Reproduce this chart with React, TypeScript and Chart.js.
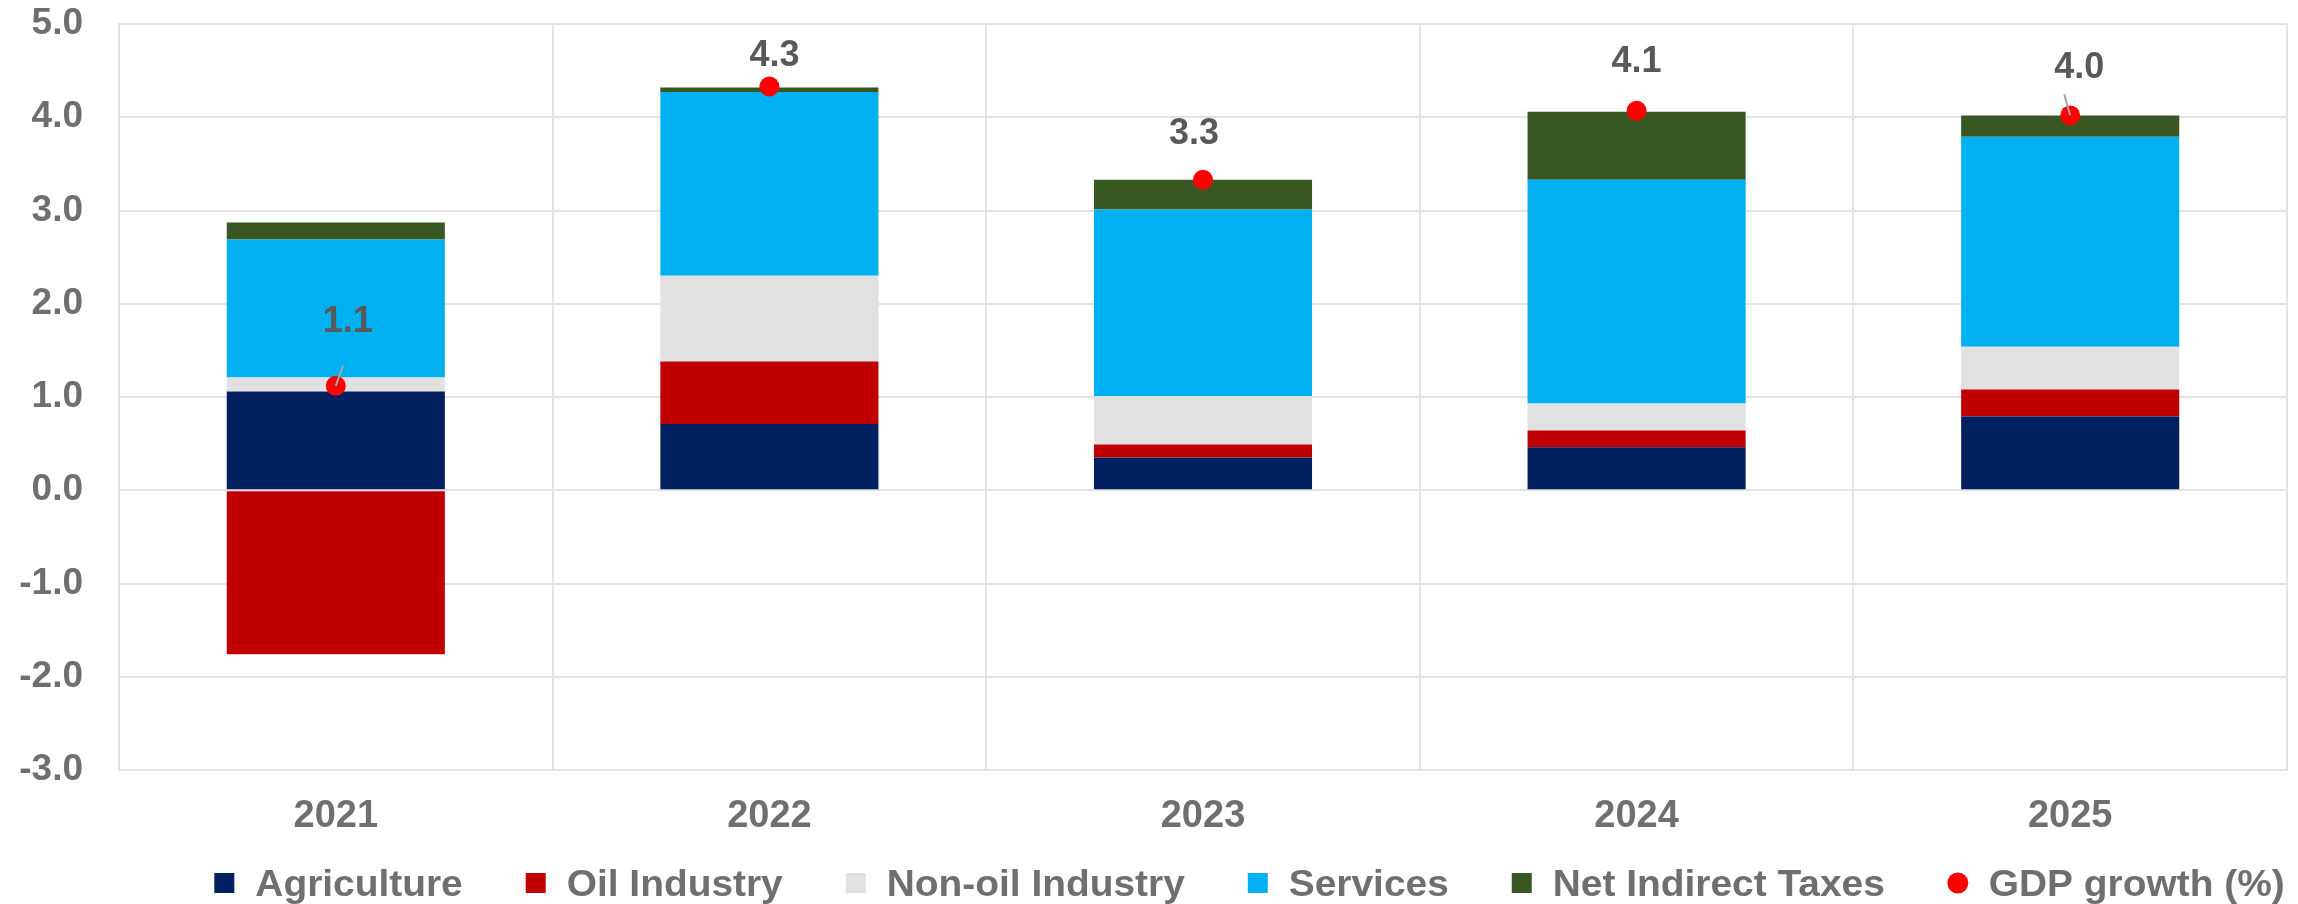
import { useEffect, useRef } from "react";
import { Chart, registerables } from "chart.js";

Chart.register(...registerables);

// ---- data ----
const years = ["2021", "2022", "2023", "2024", "2025"];
const agriculture = [1.06, 0.71, 0.35, 0.46, 0.79];
const oilIndustry = [-1.76, 0.67, 0.14, 0.18, 0.29];
const nonOilIndustry = [0.15, 0.92, 0.52, 0.29, 0.46];
const services = [1.48, 1.97, 2.0, 2.4, 2.25];
const netIndirectTaxes = [0.18, 0.05, 0.32, 0.73, 0.23];
const gdpGrowth = [1.12, 4.33, 3.33, 4.07, 4.02];
const yTicks = [-3, -2, -1, 0, 1, 2, 3, 4, 5];

const seriesNames = [
  "Agriculture",
  "Oil Industry",
  "Non-oil Industry",
  "Services",
  "Net Indirect Taxes",
  "GDP growth (%)",
];

// ---- styles ----
const W = 2298;
const H = 904;
const FAMILY = "'Liberation Sans', Arial, sans-serif";
const GRID = "#e3e3e3";
const TEXT = "#6f6f6f";
const LABEL_TEXT = "#595959";
const colors = ["#002060", "#C00000", "#E1E1E1", "#00B0F0", "#385723", "#FF0000"];

// label placement relative to each point (pixels)
const labelPlacement = [
  { dx: 12, dy: -67, leader: [7, -20] },
  { dx: 5, dy: -33 },
  { dx: -9, dy: -49 },
  { dx: 0, dy: -52 },
  { dx: 9, dy: -50, leader: [-6, -21] },
];

const gdpLabelPlugin = {
  id: "gdpLabels",
  afterDatasetsDraw(chart: any) {
    const ctx = chart.ctx;
    const idx = chart.data.datasets.findIndex((d: any) => d.type === "line");
    if (idx < 0) return;
    const meta = chart.getDatasetMeta(idx);
    const data = chart.data.datasets[idx].data;
    ctx.save();
    const size = 36;
    ctx.font = `bold ${size}px ${FAMILY}`;
    ctx.textAlign = "center";
    ctx.textBaseline = "alphabetic";
    meta.data.forEach((pt: any, i: number) => {
      const p: any = labelPlacement[i] || { dx: 0, dy: -50 };
      if (p.leader) {
        ctx.strokeStyle = "#a6a6a6";
        ctx.lineWidth = 2;
        ctx.beginPath();
        ctx.moveTo(pt.x, pt.y);
        ctx.lineTo(pt.x + p.leader[0], pt.y + p.leader[1]);
        ctx.stroke();
      }
      ctx.fillStyle = LABEL_TEXT;
      ctx.fillText(Number(data[i]).toFixed(1), pt.x + p.dx, pt.y + p.dy + size * 0.358);
    });
    ctx.restore();
  },
};

const legendPlugin = {
  id: "customLegend",
  afterDraw(chart: any) {
    const ctx = chart.ctx;
    const size = 36;
    const stretch = 1.08;
    const marker = 20;
    const dot = 21;
    const gap = 21;
    const spacing = 63;
    const centerX = 1249.5;
    const cy = 883;
    ctx.save();
    ctx.font = `bold ${size}px ${FAMILY}`;
    const items = chart.data.datasets.map((d: any) => ({
      label: d.label,
      color: d.type === "line" ? d.pointBackgroundColor : d.backgroundColor,
      circle: d.type === "line",
    }));
    const widths = items.map(
      (it: any) => marker + gap + ctx.measureText(it.label).width * stretch
    );
    const total =
      widths.reduce((a: number, b: number) => a + b, 0) + spacing * (items.length - 1);
    let x = centerX - total / 2;
    ctx.textAlign = "left";
    ctx.textBaseline = "alphabetic";
    items.forEach((it: any, i: number) => {
      ctx.fillStyle = it.color;
      if (it.circle) {
        ctx.beginPath();
        ctx.arc(x + marker / 2, cy, dot / 2, 0, Math.PI * 2);
        ctx.fill();
      } else {
        ctx.fillRect(x, cy - marker / 2, marker, marker);
      }
      ctx.fillStyle = TEXT;
      ctx.save();
      ctx.translate(x + marker + gap, cy + size * 0.358);
      ctx.scale(stretch, 1);
      ctx.fillText(it.label, 0, 0);
      ctx.restore();
      x += widths[i] + spacing;
    });
    ctx.restore();
  },
};

export default function App() {
  const ref = useRef<HTMLCanvasElement | null>(null);

  useEffect(() => {
    if (!ref.current) return;
    const barSeries = [agriculture, oilIndustry, nonOilIndustry, services, netIndirectTaxes];
    const datasets: any[] = barSeries.map((vals, i) => ({
      type: "bar",
      label: seriesNames[i],
      data: vals,
      backgroundColor: colors[i],
      borderWidth: 0,
      categoryPercentage: 1,
      barPercentage: 0.503,
      order: 1,
      stack: "components",
    }));
    datasets.push({
      type: "line",
      label: seriesNames[5],
      data: gdpGrowth,
      showLine: false,
      pointRadius: 10,
      pointHoverRadius: 10,
      pointBackgroundColor: colors[5],
      pointBorderWidth: 0,
      backgroundColor: colors[5],
      borderColor: colors[5],
      order: 0,
      stack: "gdp",
    });

    const chart = new Chart(ref.current, {
      type: "bar",
      data: { labels: years, datasets },
      options: {
        responsive: false,
        animation: false,
        devicePixelRatio: 1,
        layout: { padding: { top: 24, right: 11, bottom: 68, left: 0 } },
        plugins: {
          legend: { display: false },
          tooltip: { enabled: false },
        },
        scales: {
          x: {
            stacked: true,
            offset: true,
            grid: { color: GRID, lineWidth: 2, drawTicks: false, offset: true },
            border: { color: GRID, width: 2 },
            ticks: {
              color: TEXT,
              padding: 24,
              font: { family: FAMILY, size: 38, weight: "bold" },
            },
            afterFit: (s: any) => {
              s.height = 66;
              s.paddingLeft = 0;
              s.paddingRight = 0;
            },
          },
          y: {
            stacked: true,
            min: yTicks[0],
            max: yTicks[yTicks.length - 1],
            grid: { color: GRID, lineWidth: 2, drawTicks: false },
            border: { color: GRID, width: 2 },
            afterBuildTicks: (s: any) => {
              s.ticks = yTicks.map((v) => ({ value: v }));
            },
            ticks: {
              color: TEXT,
              padding: 36,
              font: { family: FAMILY, size: 37, weight: "bold" },
              callback: (v: any) => Number(v).toFixed(1),
            },
            afterFit: (s: any) => {
              s.width = 119;
              s.paddingTop = 0;
              s.paddingBottom = 0;
            },
          },
        },
      } as any,
      plugins: [gdpLabelPlugin, legendPlugin],
    });
    return () => chart.destroy();
  }, []);

  return (
    <div style={{ position: "fixed", left: 0, top: 0, width: W, height: H }}>
      <canvas ref={ref} width={W} height={H} style={{ display: "block" }} />
    </div>
  );
}
